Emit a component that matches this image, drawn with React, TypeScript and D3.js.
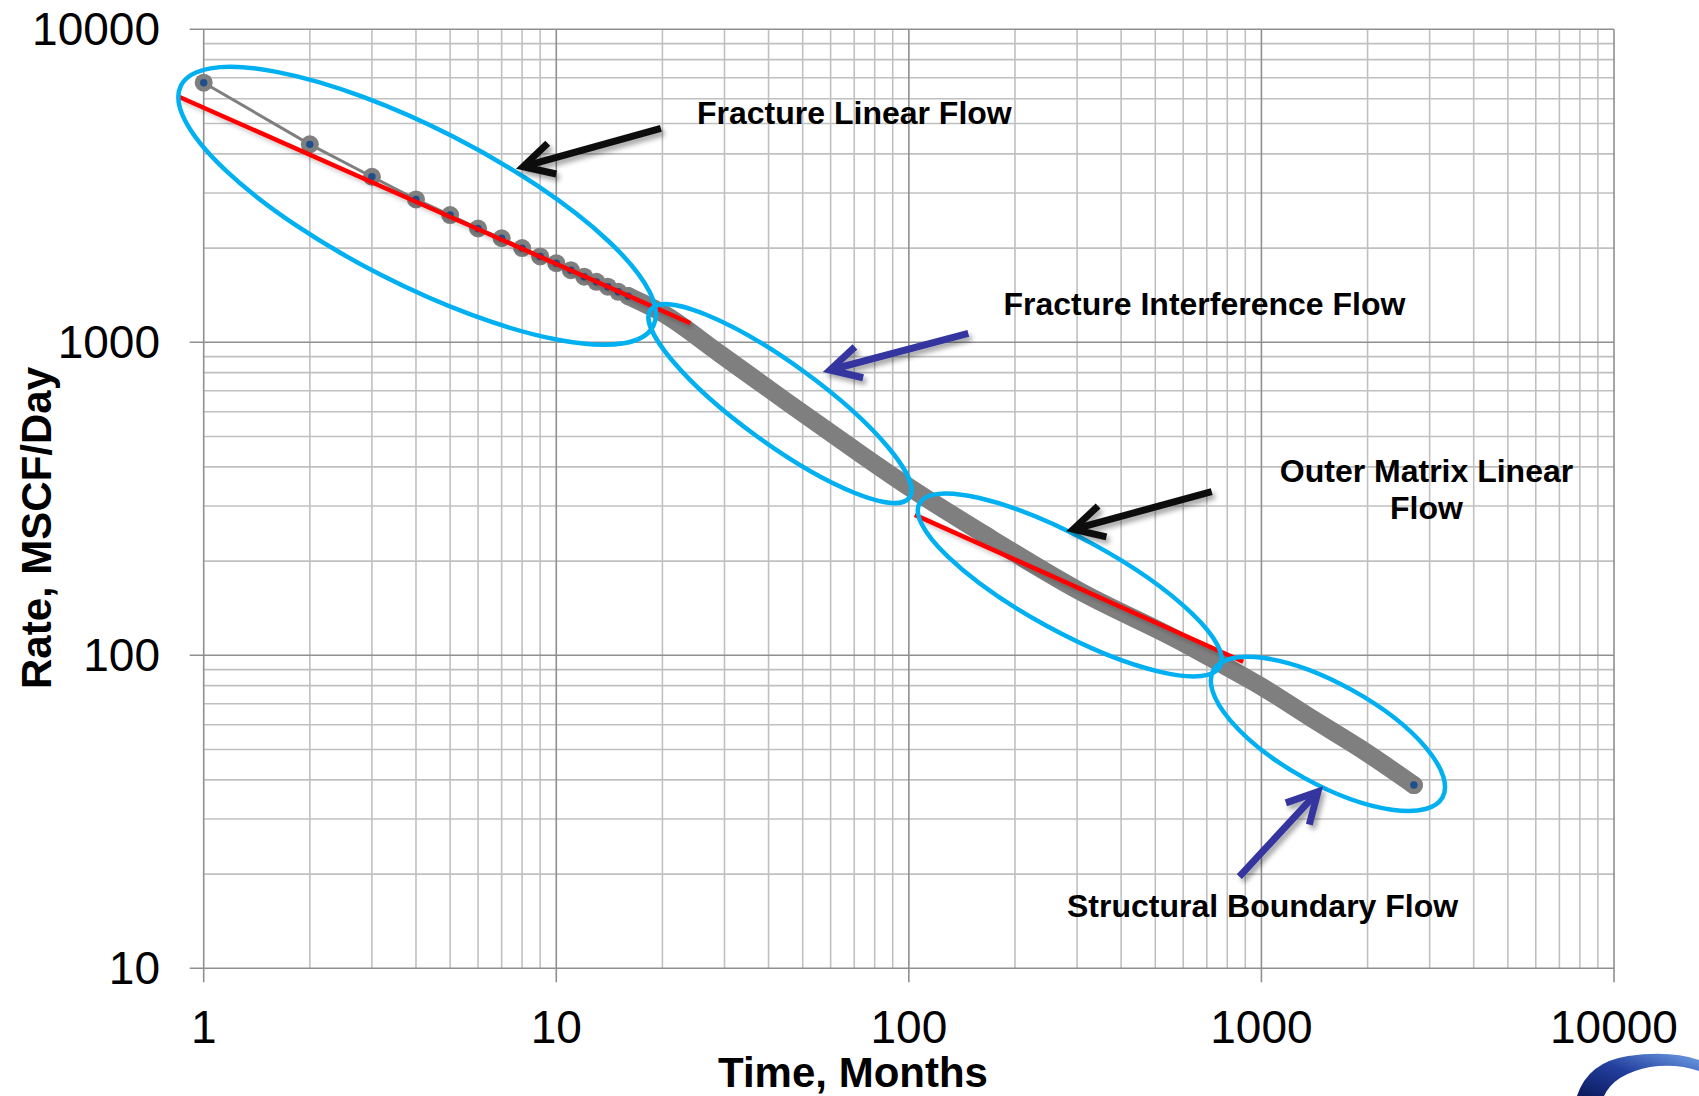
import React from "react";
import * as d3 from "d3";

// Gas rate history: months on production vs. rate (MSCF/day)
const months = [1, 2, 3, 4, 5, 6, 7, 8, 9, 10, 11, 12, 13, 14, 15, 16, 20, 29, 45, 68, 100, 162, 306, 587, 730, 1000, 1400, 1900, 2707];
const rates = [6750, 4290, 3380, 2860, 2550, 2310, 2150, 2000, 1880, 1790, 1700, 1620, 1560, 1505, 1450, 1405, 1240, 922, 646, 465, 345, 245, 160, 111, 97, 79.5, 62.5, 50.5, 38.5];

// Half-slope straight-line fits (start / end)
const fractureFitMonths = [0.85, 24];
const fractureFitRates = [6090, 1150];
const matrixFitMonths = [104, 888];
const matrixFitRates = [281, 95.4];

// Axis ticks
const xTickValues = [1, 10, 100, 1000, 10000];
const yTickValues = [10, 100, 1000, 10000];

// Flow regimes: label lines and the data point each enclosure is centred on
const regimeLabelLines = [
  ["Fracture Linear Flow"],
  ["Fracture Interference Flow"],
  ["Outer Matrix Linear", "Flow"],
  ["Structural Boundary Flow"],
];
const regimeCenterMonths = [4.03, 43.1, 286, 1544];
const regimeCenterRates = [2729, 637, 167.8, 56.1];

// ---- layout & styling ----
const W = 1699;
const H = 1096;
const PLOT = { left: 203.7, right: 1614, top: 29.3, bottom: 968.3 };
const FONT = "'Liberation Sans', Arial, Helvetica, sans-serif";
const GRAY = "#7f7f7f";
const NAVY = "#1f4e8c";
const CYAN = "#00b0f0";
const ARROW_BLUE = "#35359f";
const ARROW_BLACK = "#0d0d0d";

const ENCLOSURES = [
  { rx: 265, ry: 78, angle: 27 },
  { rx: 160, ry: 40, angle: 36 },
  { rx: 171, ry: 47, angle: 28.5 },
  { rx: 131, ry: 50, angle: 29 },
];

const ARROWS = [
  { from: [660.9, 128.3], to: [523.1, 166.7], color: ARROW_BLACK },
  { from: [968.3, 333.3], to: [830, 370], color: ARROW_BLUE },
  { from: [1211.7, 491.7], to: [1073.3, 529.3], color: ARROW_BLACK },
  { from: [1239.3, 876.7], to: [1318, 791.7], color: ARROW_BLUE },
];

const LABEL_POS = [
  { x: 697, y: 113, anchor: "start" },
  { x: 1003.5, y: 303.4, anchor: "start" },
  { x: 1426.5, y: 470.3, anchor: "middle" },
  { x: 1067, y: 906, anchor: "start" },
];

const MARKER_R = 9;
const DOT_R = 3.7;

export default function App() {
  const x = d3.scaleLog().domain([1, 10000]).range([PLOT.left, PLOT.right]);
  const y = d3.scaleLog().domain([10, 10000]).range([PLOT.bottom, PLOT.top]);

  const isMajor = (v: number) => Math.abs(Math.log10(v) - Math.round(Math.log10(v))) < 1e-9;
  const xGrid = x.ticks();
  const yGrid = y.ticks();

  const points: [number, number][] = months.map((m, i) => [m, rates[i]]);
  const line = d3
    .line<[number, number]>()
    .x((d) => x(d[0]))
    .y((d) => y(d[1]));
  const bandLine = d3
    .line<[number, number]>()
    .x((d) => x(d[0]))
    .y((d) => y(d[1]))
    .curve(d3.curveMonotoneX);
  const bandPoints = points.filter((p) => p[0] >= 16);
  const markerPoints = points.filter((p, i) => p[0] <= 16 || i === points.length - 1);

  const fits = [
    { t: fractureFitMonths, q: fractureFitRates },
    { t: matrixFitMonths, q: matrixFitRates },
  ];

  const arrowHead = (from: number[], to: number[]) => {
    const ang = Math.atan2(from[1] - to[1], from[0] - to[0]);
    const len = 34;
    const spread = (28 * Math.PI) / 180;
    const a = [to[0] + len * Math.cos(ang - spread), to[1] + len * Math.sin(ang - spread)];
    const b = [to[0] + len * Math.cos(ang + spread), to[1] + len * Math.sin(ang + spread)];
    return `M${a[0]},${a[1]}L${to[0]},${to[1]}L${b[0]},${b[1]}`;
  };

  return (
    <svg
      width={W}
      height={H}
      viewBox={`0 0 ${W} ${H}`}
      style={{ position: "absolute", left: 0, top: 0, background: "#fff" }}
      fontFamily={FONT}
    >
      <defs>
        <filter id="arrowShadow" x="-20%" y="-20%" width="140%" height="160%">
          <feDropShadow dx="3" dy="4" stdDeviation="2.5" floodColor="#000" floodOpacity="0.35" />
        </filter>
        <filter id="fitShadow" x="-5%" y="-20%" width="110%" height="140%">
          <feDropShadow dx="2" dy="3" stdDeviation="2" floodColor="#000" floodOpacity="0.22" />
        </filter>
        <linearGradient id="logoGrad" x1="0" y1="1" x2="1" y2="0">
          <stop offset="0" stopColor="#0c1a5e" />
          <stop offset="0.5" stopColor="#233f9e" />
          <stop offset="1" stopColor="#6f9fe6" />
        </linearGradient>
      </defs>

      {/* minor grid */}
      <g stroke="#c0c0c0" strokeWidth={1.6}>
        {xGrid.filter((v) => !isMajor(v)).map((v) => (
          <line key={`xm${v}`} x1={x(v)} x2={x(v)} y1={PLOT.top} y2={PLOT.bottom} />
        ))}
        {yGrid.filter((v) => !isMajor(v)).map((v) => (
          <line key={`ym${v}`} x1={PLOT.left} x2={PLOT.right} y1={y(v)} y2={y(v)} />
        ))}
      </g>
      {/* major grid */}
      <g stroke="#8f8f8f" strokeWidth={1.6}>
        {xTickValues.map((v) => (
          <line key={`xM${v}`} x1={x(v)} x2={x(v)} y1={PLOT.top} y2={PLOT.bottom + 14} />
        ))}
        {yTickValues.map((v) => (
          <line key={`yM${v}`} x1={PLOT.left - 14} x2={PLOT.right} y1={y(v)} y2={y(v)} />
        ))}
      </g>

      {/* tick labels */}
      <g fontSize={46} fill="#000">
        {yTickValues.map((v) => (
          <text key={`yl${v}`} x={160} y={y(v)} dy="0.35em" textAnchor="end">
            {v}
          </text>
        ))}
        {xTickValues.map((v) => (
          <text key={`xl${v}`} x={x(v)} y={1027} dy="0.35em" textAnchor="middle">
            {v}
          </text>
        ))}
      </g>

      {/* axis titles */}
      <text x={853} y={1072} dy="0.35em" textAnchor="middle" fontSize={42} fontWeight="bold">
        Time, Months
      </text>
      <text
        transform={`translate(36,528) rotate(-90)`}
        dy="0.35em"
        textAnchor="middle"
        fontSize={42}
        fontWeight="bold"
      >
        Rate, MSCF/Day
      </text>

      {/* rate series */}
      <path d={line(points) || ""} fill="none" stroke={GRAY} strokeWidth={3} />
      <path
        d={bandLine(bandPoints) || ""}
        fill="none"
        stroke={GRAY}
        strokeWidth={MARKER_R * 2}
        strokeLinecap="round"
        strokeLinejoin="round"
      />
      {markerPoints.map((p) => (
        <g key={`mk${p[0]}`}>
          <circle cx={x(p[0])} cy={y(p[1])} r={MARKER_R} fill={GRAY} />
          <circle cx={x(p[0])} cy={y(p[1])} r={DOT_R} fill={NAVY} />
        </g>
      ))}

      {/* straight-line fits */}
      {fits.map((f, i) => (
        <line
          key={`fit${i}`}
          x1={x(f.t[0])}
          y1={y(f.q[0])}
          x2={x(f.t[1])}
          y2={y(f.q[1])}
          stroke="#ff0000"
          strokeWidth={4.5}
          filter="url(#fitShadow)"
        />
      ))}

      {/* regime enclosures */}
      {ENCLOSURES.map((e, i) => (
        <ellipse
          key={`en${i}`}
          cx={0}
          cy={0}
          rx={e.rx}
          ry={e.ry}
          transform={`translate(${x(regimeCenterMonths[i])},${y(regimeCenterRates[i])}) rotate(${e.angle})`}
          fill="none"
          stroke={CYAN}
          strokeWidth={4.5}
        />
      ))}

      {/* arrows */}
      {ARROWS.map((a, i) => (
        <g key={`ar${i}`} stroke={a.color} strokeWidth={7} fill="none" filter="url(#arrowShadow)">
          <path d={`M${a.from[0]},${a.from[1]}L${a.to[0]},${a.to[1]}`} />
          <path d={arrowHead(a.from, a.to)} strokeLinejoin="miter" />
        </g>
      ))}

      {/* regime labels */}
      <g fontSize={32} fontWeight="bold" fill="#000">
        {regimeLabelLines.map((lines, i) => (
          <text key={`lb${i}`} x={LABEL_POS[i].x} y={LABEL_POS[i].y} textAnchor={LABEL_POS[i].anchor}>
            {lines.map((s, j) => (
              <tspan key={j} x={LABEL_POS[i].x} dy={j === 0 ? "0.35em" : "1.18em"}>
                {s}
              </tspan>
            ))}
          </text>
        ))}
      </g>

      {/* corner emblem */}
      <path
        d="M1577,1096 Q1588,1062 1628,1056 Q1670,1050 1699,1060 L1699,1071 Q1676,1063 1650,1067 Q1614,1074 1604,1096 Z"
        fill="url(#logoGrad)"
      />
    </svg>
  );
}
